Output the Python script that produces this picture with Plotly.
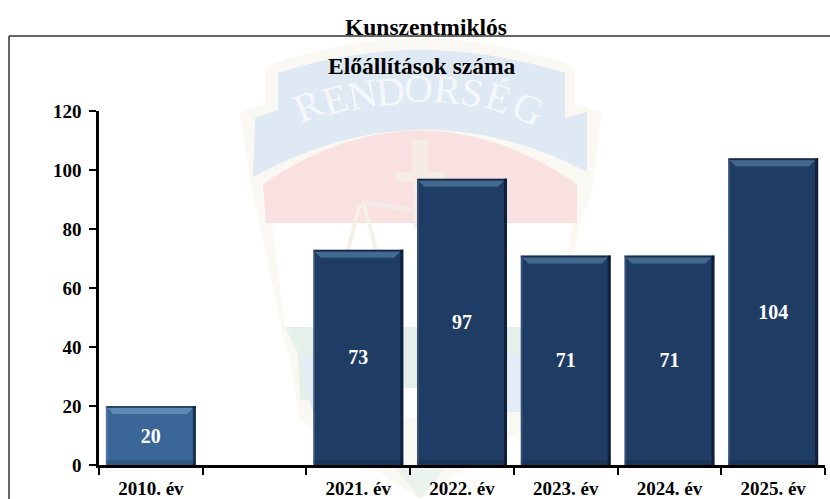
import plotly.graph_objects as go

categories = ["2010. év", " ", "2021. év", "2022. év", "2023. év", "2024. év", "2025. év"]
values = [20, None, 73, 97, 71, 71, 104]
labels = ["20", "", "73", "97", "71", "71", "104"]
colors = ["#3a6698", "#1e3c64", "#1e3c64", "#1e3c64", "#1e3c64", "#1e3c64", "#1e3c64"]
highlights = ["#5f88b6", "#44688f", "#44688f", "#44688f", "#44688f", "#44688f", "#44688f"]
y_ticks = [0, 20, 40, 60, 80, 100, 120]

W, H = 830, 499
L, R, T, B = 99, 825, 111, 465
BAR_W = 0.868
FONT = "Liberation Serif"


def px(x):
    return (x - L) / (R - L)


def py(y):
    return (B - y) / (B - T)


def poly(points, fill):
    d = "M " + " L ".join(f"{px(x):.4f},{py(y):.4f}" for x, y in points) + " Z"
    return dict(type="path", xref="paper", yref="paper", path=d, fillcolor=fill,
                line=dict(width=0), layer="below")


def curve(d_pts, fill):
    out = []
    for tok in d_pts:
        if isinstance(tok, str):
            out.append(tok)
        else:
            out.append(f"{px(tok[0]):.4f},{py(tok[1]):.4f}")
    return dict(type="path", xref="paper", yref="paper", path=" ".join(out), fillcolor=fill,
                line=dict(width=0), layer="below")


shapes = []
# faint police-crest watermark behind the chart
shapes.append(curve(["M", (240, 112), "L", (265, 104), "L", (265, 67), "Q", (420, 10), (575, 67),
                     "L", (575, 104), "L", (602, 112), "L", (592, 190), "L", (578, 230), "L", (566, 327),
                     "L", (575, 345), "L", (545, 415), "L", (420, 499), "L", (300, 420),
                     "L", (290, 360), "L", (283, 335), "L", (263, 240), "L", (252, 190), "Z"], "#f9f8f2"))
shapes.append(curve(["M", (272, 223), "L", (572, 223), "L", (556, 327), "L", (285, 327), "Z"], "#ffffff"))
shapes.append(curve(["M", (263, 184), "Q", (420, 77), (577, 184), "L", (577, 223), "L", (266, 223), "Z"],
                    "#f9e1e1"))
shapes.append(curve(["M", (278, 73), "Q", (420, 27), (565, 73), "L", (565, 118), "L", (587, 112),
                     "L", (587, 172), "Q", (420, 85), (253, 177), "L", (255, 118), "L", (278, 110), "Z"],
                    "#dfe9f4"))
shapes.append(poly([(285, 327), (572, 327), (555, 358), (540, 400), (300, 400), (298, 353)], "#e6f0ea"))
shapes.append(poly([(300, 355), (395, 355), (395, 412), (312, 412)], "#e4ecf5"))
shapes.append(poly([(445, 355), (538, 355), (528, 412), (445, 412)], "#e4ecf5"))
shapes.append(poly([(395, 388), (445, 388), (445, 418), (395, 418)], "#ffffff"))
shapes.append(poly([(393, 465), (447, 465), (420, 499)], "#eaf3ed"))
# cross and scales
shapes.append(poly([(412, 140), (428, 140), (426, 228), (414, 228)], "#f6ebe5"))
shapes.append(poly([(395, 172), (445, 172), (445, 182), (395, 182)], "#f6ebe5"))
shapes.append(poly([(362, 200), (412, 208), (412, 212), (362, 204)], "#f4ecea"))
shapes.append(poly([(362, 204), (366, 204), (378, 250), (374, 250)], "#f4efe9"))
shapes.append(poly([(362, 204), (358, 204), (346, 250), (350, 250)], "#f4efe9"))

# chart frame
shapes.append(dict(type="line", xref="paper", yref="paper", x0=px(9), x1=px(830), y0=py(36), y1=py(36),
                   line=dict(color="#333333", width=1.5), layer="above"))
shapes.append(dict(type="line", xref="paper", yref="paper", x0=px(9), x1=px(9), y0=py(36), y1=py(499),
                   line=dict(color="#333333", width=1.5), layer="above"))

# bevel on each bar, derived from its value
UNIT_Y = (B - T) / 120
SLOT = (R - L) / len(categories)
top_gap = 2 / UNIT_Y
bev_x = 6 / SLOT
bev_y = 6 / UNIT_Y
edge_x = 3 / SLOT
for i, v in enumerate(values):
    if v is None:
        continue
    a, b = i - BAR_W / 2, i + BAR_W / 2
    shapes.append(dict(type="rect", xref="x", yref="y", layer="above", line=dict(width=0),
                       fillcolor="rgba(5,15,30,0.35)", x0=a, x1=b, y0=v - top_gap, y1=v))
    shapes.append(dict(type="path", xref="x", yref="y", layer="above", line=dict(width=0),
                       fillcolor=highlights[i],
                       path=f"M {a + 1.5 / SLOT},{v - top_gap} L {b - edge_x},{v - top_gap} "
                            f"L {b - edge_x - bev_x},{v - top_gap - bev_y} L {a + 1.5 / SLOT + bev_x},{v - top_gap - bev_y} Z"))
    shapes.append(dict(type="rect", xref="x", yref="y", layer="above", line=dict(width=0),
                       fillcolor="rgba(5,15,30,0.6)", x0=b - edge_x, x1=b, y0=0, y1=v))
    shapes.append(dict(type="rect", xref="x", yref="y", layer="above", line=dict(width=0),
                       fillcolor="rgba(255,255,255,0.12)", x0=a, x1=a + edge_x * 0.6, y0=0, y1=v))
    shapes.append(dict(type="rect", xref="x", yref="y", layer="above", line=dict(width=0),
                       fillcolor="rgba(5,15,30,0.15)", x0=a, x1=b, y0=0, y1=1.6))

fig = go.Figure(go.Bar(
    x=categories, y=values, text=labels, textposition="inside", insidetextanchor="middle",
    textangle=0, marker=dict(color=colors, line=dict(width=0)), width=BAR_W,
    textfont=dict(family=FONT, size=20, color="white", weight="bold"),
    cliponaxis=False, hoverinfo="x+y",
))

annotations = []
wm_letters = [("R", 308, 106, -22), ("E", 335, 99, -16), ("N", 362, 95, -11), ("D", 390, 91, -5),
              ("O", 418, 88, 0), ("R", 447, 90, 6), ("S", 472, 93, 11), ("É", 498, 98, 17), ("G", 528, 108, 24)]
for ch, x, y, ang in wm_letters:
    annotations.append(dict(text=ch, xref="paper", yref="paper", x=px(x), y=py(y), showarrow=False,
                            xanchor="center", yanchor="middle", textangle=ang, captureevents=False,
                            font=dict(family=FONT, size=40, color="#f4f8fb")))
annotations += [
    dict(text="<b>Kunszentmiklós</b>", xref="paper", yref="paper", x=px(426), y=py(27), showarrow=False,
         xanchor="center", yanchor="middle", font=dict(family=FONT, size=23.5, color="black")),
    dict(text="<b>Előállítások száma</b>", xref="paper", yref="paper", x=px(422), y=py(66), showarrow=False,
         xanchor="center", yanchor="middle", font=dict(family=FONT, size=23.5, color="black")),
]

fig.update_layout(
    width=W, height=H, autosize=False,
    margin=dict(l=L, r=W - R, t=T, b=H - B),
    paper_bgcolor="white", plot_bgcolor="rgba(0,0,0,0)",
    font=dict(family=FONT, color="black"),
    showlegend=False, bargap=0.13, shapes=shapes, annotations=annotations,
    xaxis=dict(type="category", categoryorder="array", categoryarray=categories, tickson="boundaries",
               ticks="outside", ticklen=7, tickwidth=2, tickcolor="black", showline=True, linecolor="black",
               linewidth=2.5, showgrid=False, zeroline=False, range=[-0.5, 6.5], ticklabelstandoff=4,
               automargin=False,
               tickfont=dict(family=FONT, size=19, color="black", weight="bold")),
    yaxis=dict(range=[0, 120], tickvals=y_ticks, ticks="outside", ticklen=7, tickwidth=2, tickcolor="black",
               showline=True, linecolor="black", linewidth=2.5, showgrid=False, zeroline=False,
               ticklabelstandoff=4, automargin=False,
               tickfont=dict(family=FONT, size=19, color="black", weight="bold")),
)
fig.write_html("out.html", config=dict(displayModeBar=False),
               post_script="document.body.style.margin='0';document.documentElement.style.overflow='hidden';")
